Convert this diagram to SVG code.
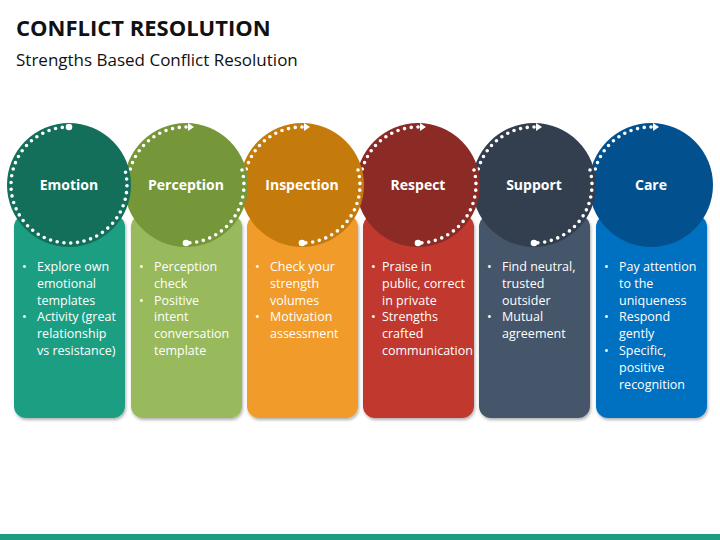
<svg xmlns="http://www.w3.org/2000/svg" width="720" height="540" viewBox="0 0 720 540">
<defs>
<style>
.t{font-family:"Open Sans","Liberation Sans",sans-serif;fill:#111}
.h{font-family:"Open Sans","Liberation Sans",sans-serif;font-weight:bold;font-size:14px;fill:#fff;text-anchor:middle}
.b{font-family:"Open Sans","Liberation Sans",sans-serif;font-size:12.5px;fill:#fff}
.d{fill:none;stroke:#fff;stroke-width:3.6;stroke-linecap:round;stroke-dasharray:0 6.8}
.w{fill:#fff}
</style>
<filter id="sh" x="-10%" y="-10%" width="130%" height="130%"><feDropShadow dx="1" dy="2" stdDeviation="1.5" flood-opacity="0.3"/></filter>
</defs>
<rect width="720" height="540" fill="#fff"/>
<text class="t" x="16" y="36" font-size="22" font-weight="bold">CONFLICT RESOLUTION</text>
<text class="t" x="16" y="66" font-size="17">Strengths Based Conflict Resolution</text>
<rect x="0" y="534" width="720" height="6" fill="#1C9E82"/>

<g id="care">
<rect x="596" y="215" width="111" height="203" rx="12" fill="#0670C0" filter="url(#sh)"/>
<circle cx="651" cy="185" r="62" fill="#03508E"/>
<path class="d" d="M651,127 A58,58 0 0 0 595,170"/>
<path class="w" d="M653,123 L659,127 L653,131Z"/>
<text class="h" x="651" y="190">Care</text>
<text class="b"><tspan x="604" y="271">•</tspan><tspan x="619" y="271">Pay attention</tspan><tspan x="619" y="288">to the</tspan><tspan x="619" y="305">uniqueness</tspan><tspan x="604" y="321">•</tspan><tspan x="619" y="321">Respond</tspan><tspan x="619" y="338">gently</tspan><tspan x="604" y="355">•</tspan><tspan x="619" y="355">Specific,</tspan><tspan x="619" y="372">positive</tspan><tspan x="619" y="389">recognition</tspan></text>
</g>

<g id="support">
<rect x="479" y="215" width="111" height="203" rx="12" fill="#44546A" filter="url(#sh)"/>
<circle cx="534" cy="185" r="62" fill="#333F4F"/>
<path class="d" d="M534,127 A58,58 0 0 0 478,170"/>
<path class="d" d="M590,170 A58,58 0 0 1 534,243"/>
<path class="w" d="M536,123 L542,127 L536,131Z"/>
<circle class="w" cx="534" cy="243" r="3.3"/>
<text class="h" x="534" y="190">Support</text>
<text class="b"><tspan x="487" y="271">•</tspan><tspan x="502" y="271">Find neutral,</tspan><tspan x="502" y="288">trusted</tspan><tspan x="502" y="305">outsider</tspan><tspan x="487" y="321">•</tspan><tspan x="502" y="321">Mutual</tspan><tspan x="502" y="338">agreement</tspan></text>
</g>

<g id="respect">
<rect x="363" y="215" width="111" height="203" rx="12" fill="#C0382F" filter="url(#sh)"/>
<circle cx="418" cy="185" r="62" fill="#8C2A25"/>
<path class="d" d="M418,127 A58,58 0 0 0 362,170"/>
<path class="d" d="M474,170 A58,58 0 0 1 418,243"/>
<path class="w" d="M420,123 L426,127 L420,131Z"/>
<circle class="w" cx="418" cy="243" r="3.3"/>
<text class="h" x="418" y="190">Respect</text>
<text class="b"><tspan x="371" y="271">•</tspan><tspan x="382" y="271">Praise in</tspan><tspan x="382" y="288">public, correct</tspan><tspan x="382" y="305">in private</tspan><tspan x="371" y="321">•</tspan><tspan x="382" y="321">Strengths</tspan><tspan x="382" y="338">crafted</tspan><tspan x="382" y="355">communication</tspan></text>
</g>

<g id="inspection">
<rect x="247" y="215" width="111" height="203" rx="12" fill="#F19B2A" filter="url(#sh)"/>
<circle cx="302" cy="185" r="62" fill="#C57A0C"/>
<path class="d" d="M302,127 A58,58 0 0 0 246,170"/>
<path class="d" d="M358,170 A58,58 0 0 1 302,243"/>
<path class="w" d="M304,123 L310,127 L304,131Z"/>
<circle class="w" cx="302" cy="243" r="3.3"/>
<text class="h" x="302" y="190">Inspection</text>
<text class="b"><tspan x="255" y="271">•</tspan><tspan x="270" y="271">Check your</tspan><tspan x="270" y="288">strength</tspan><tspan x="270" y="305">volumes</tspan><tspan x="255" y="321">•</tspan><tspan x="270" y="321">Motivation</tspan><tspan x="270" y="338">assessment</tspan></text>
</g>

<g id="perception">
<rect x="131" y="215" width="111" height="203" rx="12" fill="#98BA5B" filter="url(#sh)"/>
<circle cx="186" cy="185" r="62" fill="#76963A"/>
<path class="d" d="M186,127 A58,58 0 0 0 130,170"/>
<path class="d" d="M242,170 A58,58 0 0 1 186,243"/>
<path class="w" d="M188,123 L194,127 L188,131Z"/>
<circle class="w" cx="186" cy="243" r="3.3"/>
<text class="h" x="186" y="190">Perception</text>
<text class="b"><tspan x="139" y="271">•</tspan><tspan x="154" y="271">Perception</tspan><tspan x="154" y="288">check</tspan><tspan x="139" y="305">•</tspan><tspan x="154" y="305">Positive</tspan><tspan x="154" y="321">intent</tspan><tspan x="154" y="338">conversation</tspan><tspan x="154" y="355">template</tspan></text>
</g>

<g id="emotion">
<rect x="14" y="215" width="111" height="203" rx="12" fill="#1C9E82" filter="url(#sh)"/>
<circle cx="69" cy="185" r="62" fill="#146F5A"/>
<path class="d" d="M69,127 A58,58 0 1 0 125,170"/>
<circle class="w" cx="69" cy="127" r="3.3"/>
<text class="h" x="69" y="190">Emotion</text>
<text class="b"><tspan x="22" y="271">•</tspan><tspan x="37" y="271">Explore own</tspan><tspan x="37" y="288">emotional</tspan><tspan x="37" y="305">templates</tspan><tspan x="22" y="321">•</tspan><tspan x="37" y="321">Activity (great</tspan><tspan x="37" y="338">relationship</tspan><tspan x="37" y="355">vs resistance)</tspan></text>
</g>
</svg>
